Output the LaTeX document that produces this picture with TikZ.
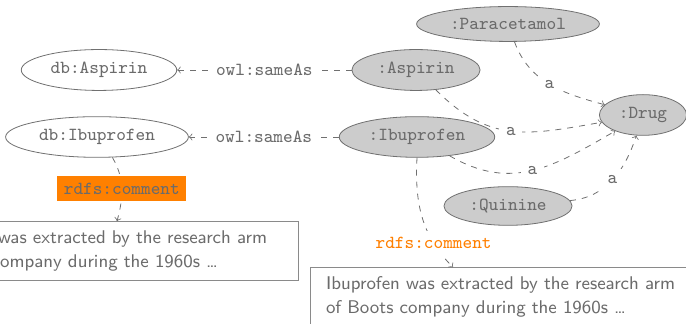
\documentclass[tikz,border=0pt]{standalone}
\usetikzlibrary{shapes.geometric}
\definecolor{txtgray}{HTML}{6B6B6B}
\definecolor{linegray}{HTML}{707070}
\definecolor{boxgray}{HTML}{8A8A8A}
\definecolor{nodefill}{HTML}{CCCCCC}
\definecolor{orng}{HTML}{FF8000}
\begin{document}
\begin{tikzpicture}[x=0.5pt,y=-0.5pt,
  every node/.style={text=txtgray, font=\fontsize{9.2}{12}\selectfont\ttfamily},
  res/.style={ellipse, draw=linegray, fill=nodefill},
  ext/.style={ellipse, draw=linegray, fill=white},
  cbox/.style={draw=boxgray, fill=white, text width=182pt, inner xsep=8pt, inner ysep=4.5pt, align=left, font=\fontsize{9.2}{12}\selectfont\sffamily},
  edge/.style={draw=linegray, dashed, ->},
  lbl/.style={fill=white},
  olbl/.style={fill=orng, text=txtgray},
  otxt/.style={fill=white, text=orng}]
\useasboundingbox (0,0) rectangle (686,324);
\clip (0,0) rectangle (686,324);
% nodes
\node[ext] (dbasp) at (99,70) {db:Aspirin};
\node[ext] (dbibu) at (97,137) {db:Ibuprofen};
\node[res] (asp) at (416,70) {:Aspirin};
\node[res] (ibu) at (417,137) {:Ibuprofen};
\node[res] (para) at (508,24) {:Paracetamol};
\node[res] (drug) at (643,115) {:Drug};
\node[res] (quin) at (508,206) {:Quinine};
\node[cbox] (lbox) at (100,251) {Ibuprofen was extracted by the research arm\\ of Boots company during the 1960s \ldots};
\node[cbox] (rbox) at (508,297) {Ibuprofen was extracted by the research arm\\ of Boots company during the 1960s \ldots};
% edges
\draw[edge] (asp) -- node[lbl]{owl:sameAs} (dbasp);
\draw[edge] (ibu) -- node[lbl]{owl:sameAs} (dbibu);
\draw[edge] (para) to[out=-70,in=165] node[lbl]{a} (drug);
\draw[edge] (asp) to[out=-45,in=190,looseness=1.15] node[lbl]{a} (drug);
\draw[edge] (ibu) to[out=-30,in=210,looseness=1.1] node[lbl]{a} (drug);
\draw[edge] (quin) to[out=5,in=252] node[lbl]{a} (drug);
\draw[edge] (dbibu.-53) to[out=-60,in=75] node[olbl]{rdfs:comment} ([xshift=8.5pt]lbox.north);
\draw[edge] (ibu.south) to[out=-93,in=135] node[otxt,pos=0.75]{rdfs:comment} ([xshift=-27.5pt]rbox.north);
\end{tikzpicture}
\end{document}
